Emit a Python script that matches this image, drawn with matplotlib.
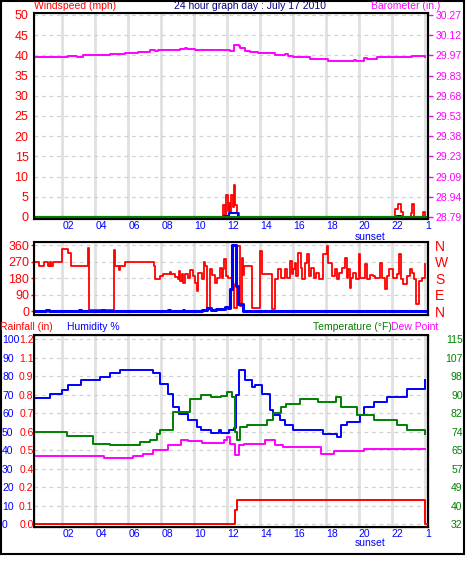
import numpy as np
import matplotlib
matplotlib.use("Agg")
import matplotlib.pyplot as plt

plt.rcParams['font.family'] = ['Liberation Sans', 'DejaVu Sans']

RED, MAG, BLUE, GREEN, NAVY = '#ff0000', '#ff00ff', '#0000ff', '#008000', '#000080'
W, H = 467, 566

# ---- top panel: wind speed (mph) and barometer (in) ----
gust_h = [0.27, 11.6, 11.75, 11.85, 11.95, 12.05, 12.1, 12.2, 12.25, 12.35, 12.42, 12.5, 12.6, 12.7,
          22.2, 22.35, 22.55, 22.7, 23.15, 23.25, 23.35, 23.9, 24.0]
gust_v = [0, 0, 3.0, 0.5, 5.4, 1.5, 3.5, 1.0, 5.4, 2.5, 8.0, 3.0, 1.0, 0,
          2.0, 3.2, 1.3, 0, 1.0, 3.2, 0, 1.2, 0]
avg_h = [0.27, 11.8, 11.9, 12.1, 12.55, 12.65, 22.3, 22.55, 24.0]
avg_v = [0, 0.3, 0.2, 1.0, 1.0, 0, 0.3, 0, 0]

baro_h = [0.3, 2.35, 2.9, 3.25, 4.9, 5.8, 6.6, 7.3, 7.6, 7.8, 8.25, 9.15, 9.45, 9.55, 10.05,
          12.2, 12.4, 12.7, 12.8, 13.1, 13.4, 13.9, 14.9, 15.5, 15.7, 16.0, 17.05, 18.1,
          19.7, 19.8, 20.3, 20.5, 21.1, 22.5, 23.25, 24.0]
baro_v = [29.965, 29.970, 29.965, 29.974, 29.986, 29.993, 30.000, 30.012, 30.006, 30.012, 30.015,
          30.020, 30.030, 30.020, 30.015, 30.003, 30.050, 30.040, 30.026, 30.003, 29.998, 29.990,
          29.980, 29.985, 29.972, 29.960, 29.950, 29.936, 29.940, 29.936, 29.955, 29.945, 29.960,
          29.965, 29.968, 29.965]

# ---- middle panel: wind direction (deg) ----
dir_h = [0.3, 0.55, 0.85, 1.15, 1.25, 1.32, 1.4, 1.95, 2.36, 2.5, 3.58, 3.62, 5.14, 5.2, 5.42, 5.52,
         5.77, 7.57, 7.63, 7.93, 8.13, 8.5, 8.6, 8.85, 9.0, 9.05, 9.15, 9.25, 9.35, 9.45, 9.65, 9.76,
         9.95, 10.06, 10.16, 10.26, 10.47, 10.6, 10.68, 10.8, 10.95, 11.08, 11.28, 11.4, 11.58,
         11.66, 11.74, 11.84, 11.95, 12.05, 12.27, 12.4, 12.58, 12.79, 12.88, 12.98, 13.05, 13.5,
         13.99, 14.1, 14.7, 14.92, 15.1, 15.3, 15.5, 15.62, 15.82, 15.92, 16.0, 16.12, 16.2, 16.33,
         16.46, 16.57, 16.75, 16.87, 17.0, 17.12, 17.25, 17.37, 17.57, 17.82, 18.05, 18.15, 18.37,
         18.55, 18.65, 18.8, 18.98, 19.18, 19.27, 19.37, 19.47, 19.55, 19.67, 19.8, 19.98, 20.1,
         20.37, 20.5, 20.7, 20.85, 21.0, 21.28, 21.4, 21.6, 21.7, 21.85, 22.05, 22.3, 22.45, 22.55,
         22.7, 22.9, 23.1, 23.22, 23.32, 23.5, 23.65, 23.85, 24.0]
dir_v = [270, 245, 270, 245, 270, 245, 270, 338, 316, 245, 345, 5, 335, 245, 224, 245,
         270, 245, 178, 193, 202, 214, 202, 189, 178, 220, 165, 205, 156, 202, 184, 224,
         193, 153, 111, 211, 178, 269, 247, 20, 229, 196, 156, 184, 238,
         184, 229, 284, 193, 184, 150, 20, 356, 29, 292, 200, 247, 20,
         329, 202, 10, 178, 229, 184, 229, 184, 274, 202, 229, 265, 193, 320,
         238, 175, 265, 311, 193, 238, 184, 211, 178, 311, 356, 265, 193,
         229, 175, 211, 238, 292, 184, 229, 129, 184, 211, 175, 311, 184,
         256, 175, 196, 193, 184, 265, 184, 120, 193, 229, 184, 202, 311, 175,
         147, 193, 229, 211, 175, 38, 165, 184, 256]
dspd_h = [0.3, 1.0, 1.2, 3.0, 3.1, 4.4, 4.5, 8.4, 8.5, 9.3, 9.4, 10.5, 10.8, 11.0, 11.3, 11.6,
          11.9, 12.07, 12.17, 12.31, 12.52, 12.68, 12.98, 24.0]
dspd_v = [3, 5, 3, 6, 3, 6, 3, 5, 3, 7, 3, 8, 20, 8, 15, 10, 25, 20, 120, 360, 138, 38, 3, 3]

# ---- bottom panel: humidity, temperature, dew point, rain ----
hum_h = [0.4, 1.25, 2.0, 2.35, 3.1, 4.1, 4.3, 4.9, 5.5, 7.1, 7.5, 7.9, 8.4, 8.7, 9.1, 9.6, 10.2,
         10.4, 10.9, 11.0, 11.5, 11.6, 12.1, 12.4, 12.55, 12.7, 12.8, 13.1, 13.5, 13.7, 14.1,
         14.4, 14.6, 14.8, 15.2, 15.5, 16.0, 16.4, 17.8, 18.7, 18.9, 19.3, 20.1, 20.3, 20.9,
         21.7, 22.9, 24.0]
hum_v = [68.5, 70.3, 72.4, 75.1, 77.8, 77.8, 79.6, 81.5, 83.2, 83.2, 81.5, 76.0, 70.6, 63.4,
         59.8, 56.2, 52.6, 50.8, 50.8, 49.5, 50.8, 49.5, 50.8, 52.0, 70.0, 83.2, 83.2, 77.8,
         74.2, 75.5, 70.6, 70.6, 61.6, 58.9, 56.2, 53.5, 51.0, 50.8, 49.0, 46.9, 53.5, 55.3,
         58.9, 63.4, 66.1, 68.8, 73.3, 77.8]

temp_h = [0.4, 2.3, 3.85, 4.9, 5.9, 6.7, 7.3, 7.75, 7.9, 8.7, 9.75, 10.4, 11.0, 11.6, 12.0, 12.3,
          12.5, 12.6, 12.8, 13.2, 14.1, 14.4, 14.8, 15.3, 15.6, 16.2, 16.4, 17.4, 17.5, 18.3,
          18.6, 18.9, 19.9, 20.9, 22.3, 22.9, 24.0]
temp_v = [73.2, 71.5, 68.2, 67.6, 67.6, 68.8, 69.7, 72.7, 74.2, 82.4, 88.4, 90.1, 89.3, 89.6,
          91.3, 89.3, 73.5, 69.7, 75.7, 76.4, 76.4, 78.6, 81.8, 84.6, 86.1, 86.1, 88.1, 88.1,
          86.9, 86.9, 88.9, 84.6, 80.9, 78.6, 76.4, 74.2, 72.3]

dew_h = [0.4, 4.3, 4.5, 4.9, 6.3, 6.9, 7.5, 8.4, 9.2, 9.6, 10.5, 11.6, 11.8, 12.0, 12.2, 12.5,
         12.7, 13.0, 14.2, 14.3, 14.9, 15.4, 17.5, 17.7, 18.3, 18.5, 20.3, 24.0]
dew_v = [62.6, 62.4, 61.7, 61.7, 62.6, 63.7, 65.2, 67.4, 70.0, 69.3, 68.4, 68.4, 69.7, 71.2,
         68.2, 63.0, 67.4, 68.2, 68.2, 69.7, 67.4, 66.7, 66.7, 63.7, 63.7, 64.9, 65.6, 65.6]

rain_h = [0.27, 12.5, 12.6, 24.0, 24.2]
rain_v = [0.0, 0.09, 0.16, 0.0, 0.0]

hour_ticks = [2, 4, 6, 8, 10, 12, 14, 16, 18, 20, 22, 24]
hour_labels = ['02', '04', '06', '08', '10', '12', '14', '16', '18', '20', '22', '1']
wind_ticks = list(range(0, 51, 5))
dir_ticks = [0, 90, 180, 270, 360]
dir_labels = ['N', 'E', 'S', 'W', 'N']
hum_ticks = list(range(0, 101, 10))
rain_labels = ['0.0', '0.1', '0.2', '0.4', '0.5', '0.6', '0.7', '0.8', '0.9', '1.1', '1.2']
baro_ticks = np.linspace(28.79, 30.27, 11)
temp_ticks = np.linspace(32, 115, 11)

fig = plt.figure(figsize=(W / 100, H / 100), dpi=100)


def box(x0, y0, x1, y1):
    return [x0 / W, 1 - y1 / H, (x1 - x0) / W, (y1 - y0) / H]


def ftext(x, y, s, **kw):
    fig.text(x / W, 1 - y / H, s, fontsize=7.5, va='center', **kw)


def frame(ax, yt):
    for s in ax.spines.values():
        s.set_linewidth(1.5)
    ax.set_xlim(0.27, 24.2)
    for h in hour_ticks:
        ax.axvline(h, color='#e0e0e0', lw=2.0, zorder=0)
    for y in yt:
        ax.axhline(y, color='#d2d2d2', lw=0.9, dashes=(3, 3), zorder=0)
    ax.set_xticks([])


def hour_axis(ax):
    ax.set_xticks(hour_ticks, hour_labels)
    ax.tick_params(axis='x', length=0, pad=1.5, labelsize=7.5, labelcolor=BLUE)
    for lab in ax.get_xticklabels():
        lab.set_ha('left')


# top panel
ax1 = fig.add_axes(box(34, 12.5, 428, 219))
frame(ax1, wind_ticks)
ax1.set_ylim(-0.5, 50.6)
ax1.plot(gust_h, gust_v, color=RED, lw=1.3, drawstyle='steps-post')
ax1.plot(avg_h, avg_v, color=BLUE, lw=1.5, drawstyle='steps-post')
ax1.axhline(0, color=GREEN, lw=1.5)
ax1.set_yticks(wind_ticks)
ax1.tick_params(axis='y', length=0, pad=4, labelsize=9, labelcolor=RED)
hour_axis(ax1)
ax1b = ax1.twinx()
k = (baro_ticks[-1] - baro_ticks[0]) / 50
ax1b.set_ylim(baro_ticks[0] - 0.5 * k, baro_ticks[0] + 50.6 * k)
ax1b.plot(baro_h, baro_v, color=MAG, lw=1.4, drawstyle='steps-post')
ax1b.set_yticks(baro_ticks, ['%.2f' % v for v in baro_ticks])
ax1b.tick_params(axis='y', length=3.5, width=1, color=MAG, pad=2, labelsize=7.5, labelcolor=MAG)
ax1b.set_xlim(0.27, 24.2)

# middle panel
ax2 = fig.add_axes(box(34, 242, 428, 315))
frame(ax2, [90, 180, 270, 360])
ax2.set_ylim(-20, 378)
ax2.plot(dir_h, dir_v, color=RED, lw=1.3, drawstyle='steps-post')
ax2.plot(dspd_h, dspd_v, color=BLUE, lw=2.2, drawstyle='steps-post')
ax2.set_yticks(dir_ticks)
ax2.tick_params(axis='y', length=2.5, width=1, color=RED, pad=0.8, labelsize=9, labelcolor=RED)
ax2b = ax2.twinx()
ax2b.set_ylim(-20, 378)
ax2b.set_yticks(dir_ticks, dir_labels)
ax2b.tick_params(axis='y', length=0, pad=5, labelsize=10, labelcolor=RED)

# bottom panel
ax3 = fig.add_axes(box(34, 335, 428, 527))
frame(ax3, hum_ticks)
ax3.set_ylim(-1.5, 102.3)
ax3.plot(hum_h, hum_v, color=BLUE, lw=1.4, drawstyle='steps-post', zorder=3)
ax3.set_yticks(hum_ticks)
ax3.tick_params(axis='y', length=0, pad=23, labelsize=7.5, labelcolor=BLUE)
for lab in ax3.get_yticklabels():
    lab.set_ha('left')
hour_axis(ax3)

ax3r = ax3.twinx()
ax3r.set_ylim(-1.5 * 0.012, 102.3 * 0.012)
ax3r.plot(rain_h, rain_v, color=RED, lw=1.4, drawstyle='steps-post')
ax3r.yaxis.tick_left()
ax3r.set_yticks(np.array(hum_ticks) * 0.012, rain_labels)
ax3r.tick_params(axis='y', length=0, pad=0.3, labelsize=7.5, labelcolor=RED)

ax3t = ax3.twinx()
kt = (temp_ticks[-1] - temp_ticks[0]) / 100
ax3t.set_ylim(temp_ticks[0] - 1.5 * kt, temp_ticks[0] + 102.3 * kt)
ax3t.plot(temp_h, temp_v, color=GREEN, lw=1.4, drawstyle='steps-post')
ax3t.plot(dew_h, dew_v, color=MAG, lw=1.4, drawstyle='steps-post')
ax3t.set_yticks(temp_ticks, ['%.0f' % v for v in temp_ticks])
ax3t.tick_params(axis='y', length=0, pad=25, labelsize=7.5, labelcolor=GREEN)
for lab in ax3t.get_yticklabels():
    lab.set_ha('right')
for a in (ax2b, ax3r, ax3t):
    a.set_xlim(0.27, 24.2)

# headers
ftext(34, 6, 'Windspeed (mph)', color=RED)
ftext(250, 6, '24 hour graph day : July 17 2010', color=NAVY, ha='center')
ftext(440, 6, 'Barometer (in.)', color=MAG, ha='right')
ftext(370, 237, 'sunset', color=BLUE, ha='center')
ftext(0, 327, 'Rainfall (in)', color=RED)
ftext(67, 327, 'Humidity %', color=BLUE)
ftext(313, 327, 'Temperature (\u00b0F)', color=GREEN)
ftext(391, 327, 'Dew Point', color=MAG)
ftext(370, 543, 'sunset', color=BLUE, ha='center')

# outer frame
fig.add_artist(plt.Rectangle((1 / W, 1 - 554 / H), 463 / W, 553 / H, transform=fig.transFigure,
                             fill=False, lw=1.5, color='black'))

fig.savefig('out.png', dpi=100)
